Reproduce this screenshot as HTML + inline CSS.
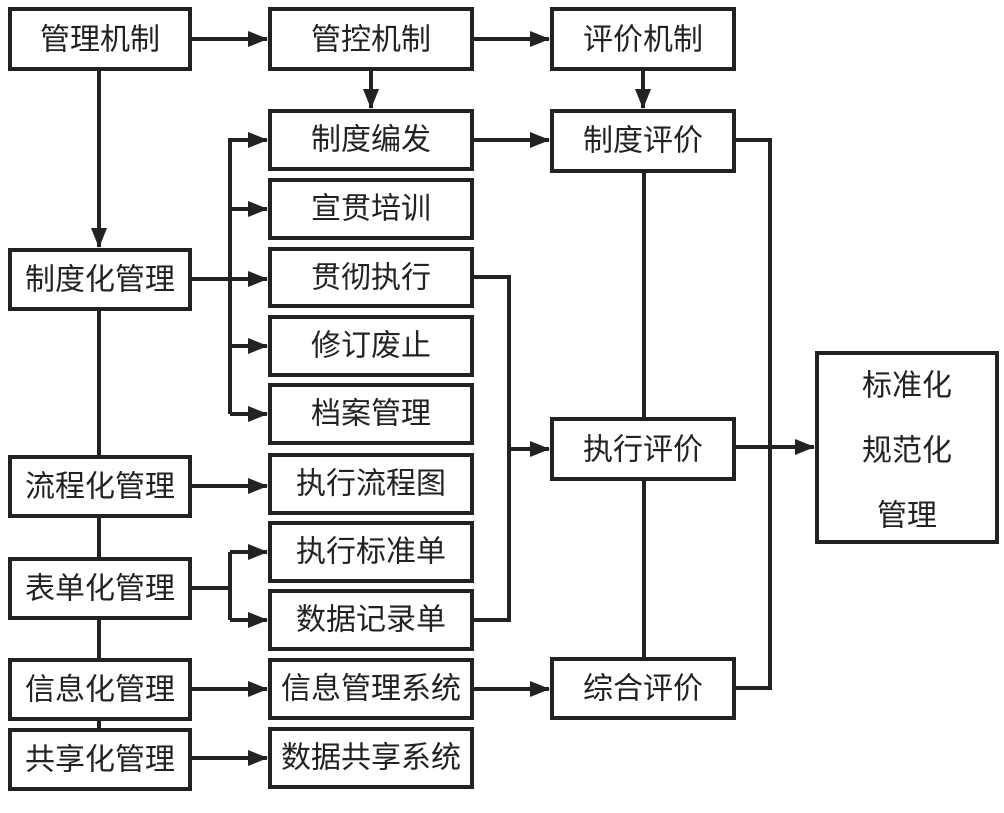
<!DOCTYPE html>
<html><head><meta charset="utf-8"><style>
html,body{margin:0;padding:0;background:#fff}
svg{display:block}
text{font-family:"Liberation Sans","Noto Sans CJK SC",sans-serif;font-size:30px;fill:#222;text-anchor:middle;dominant-baseline:central}
</style></head><body>
<svg width="1004" height="813" viewBox="0 0 1004 813" xmlns="http://www.w3.org/2000/svg">
<defs><marker id="a" markerWidth="10" markerHeight="10" refX="9" refY="5" orient="auto" markerUnits="userSpaceOnUse" viewBox="0 0 10 10"><path d="M0,0 L10,5 L0,10z" fill="#222"/></marker>
<marker id="b" markerWidth="20" markerHeight="20" refX="19" refY="10" orient="auto" markerUnits="userSpaceOnUse" viewBox="0 0 20 20"><path d="M0,2 L20,10 L0,18z" fill="#222"/></marker></defs>
<g stroke="#222" stroke-width="4" fill="none">
<!-- lines -->
<line x1="99" y1="70" x2="99" y2="247" marker-end="url(#b)"/>
<line x1="99" y1="310" x2="99" y2="728"/>
<line x1="192" y1="39" x2="267" y2="39" marker-end="url(#b)"/>
<line x1="474" y1="39" x2="549" y2="39" marker-end="url(#b)"/>
<line x1="371" y1="70" x2="371" y2="108" marker-end="url(#b)"/>
<line x1="643" y1="70" x2="643" y2="108" marker-end="url(#b)"/>
<line x1="474" y1="140" x2="549" y2="140" marker-end="url(#b)"/>
<line x1="192" y1="279" x2="267" y2="279" marker-end="url(#b)"/>
<polyline points="267,140 230,140 230,414"/>
<line x1="230" y1="140" x2="267" y2="140" marker-end="url(#b)"/>
<line x1="230" y1="209" x2="267" y2="209" marker-end="url(#b)"/>
<line x1="230" y1="346" x2="267" y2="346" marker-end="url(#b)"/>
<line x1="230" y1="414" x2="267" y2="414" marker-end="url(#b)"/>
<line x1="192" y1="486" x2="267" y2="486" marker-end="url(#b)"/>
<polyline points="192,588 230,588"/>
<line x1="230" y1="552" x2="230" y2="620"/>
<line x1="230" y1="552" x2="267" y2="552" marker-end="url(#b)"/>
<line x1="230" y1="620" x2="267" y2="620" marker-end="url(#b)"/>
<line x1="192" y1="689" x2="267" y2="689" marker-end="url(#b)"/>
<line x1="192" y1="758" x2="267" y2="758" marker-end="url(#b)"/>
<polyline points="474,277 509,277 509,620 474,620"/>
<line x1="509" y1="449" x2="549" y2="449" marker-end="url(#b)"/>
<line x1="474" y1="689" x2="549" y2="689" marker-end="url(#b)"/>
<line x1="644" y1="172" x2="644" y2="417"/>
<line x1="644" y1="481" x2="644" y2="657"/>
<polyline points="735,140 770,140 770,688 735,688"/>
<line x1="735" y1="447" x2="814" y2="447" marker-end="url(#b)"/>
</g>
<g stroke="#222" stroke-width="4" fill="#fff">
<rect x="10" y="9" width="180" height="60"/>
<rect x="10" y="250" width="180" height="59"/>
<rect x="10" y="457" width="180" height="59"/>
<rect x="10" y="559" width="180" height="59"/>
<rect x="10" y="660" width="180" height="59"/>
<rect x="10" y="730" width="180" height="59"/>
<rect x="270" y="9" width="202" height="60"/>
<rect x="270" y="111" width="202" height="58"/>
<rect x="270" y="180" width="202" height="58"/>
<rect x="270" y="249" width="202" height="57"/>
<rect x="270" y="317" width="202" height="58"/>
<rect x="270" y="385" width="202" height="58"/>
<rect x="270" y="455" width="202" height="58"/>
<rect x="270" y="523" width="202" height="58"/>
<rect x="270" y="591" width="202" height="58"/>
<rect x="270" y="660" width="202" height="58"/>
<rect x="270" y="729" width="202" height="58"/>
<rect x="552" y="9" width="182" height="60"/>
<rect x="552" y="111" width="182" height="60"/>
<rect x="552" y="419" width="182" height="60"/>
<rect x="552" y="659" width="182" height="59"/>
<rect x="817" y="353" width="180" height="189"/>
</g>
<text x="100" y="40">管理机制</text>
<text x="100" y="280">制度化管理</text>
<text x="100" y="487">流程化管理</text>
<text x="100" y="589">表单化管理</text>
<text x="100" y="690">信息化管理</text>
<text x="100" y="760">共享化管理</text>
<text x="371" y="40">管控机制</text>
<text x="371" y="140">制度编发</text>
<text x="371" y="209">宣贯培训</text>
<text x="371" y="278">贯彻执行</text>
<text x="371" y="346">修订废止</text>
<text x="371" y="414">档案管理</text>
<text x="371" y="484">执行流程图</text>
<text x="371" y="552">执行标准单</text>
<text x="371" y="620">数据记录单</text>
<text x="371" y="689">信息管理系统</text>
<text x="371" y="758">数据共享系统</text>
<text x="643" y="40">评价机制</text>
<text x="643" y="141">制度评价</text>
<text x="643" y="450">执行评价</text>
<text x="643" y="689">综合评价</text>
<text x="907" y="386">标准化</text>
<text x="907" y="451">规范化</text>
<text x="907" y="516">管理</text>
</svg>
</body></html>
